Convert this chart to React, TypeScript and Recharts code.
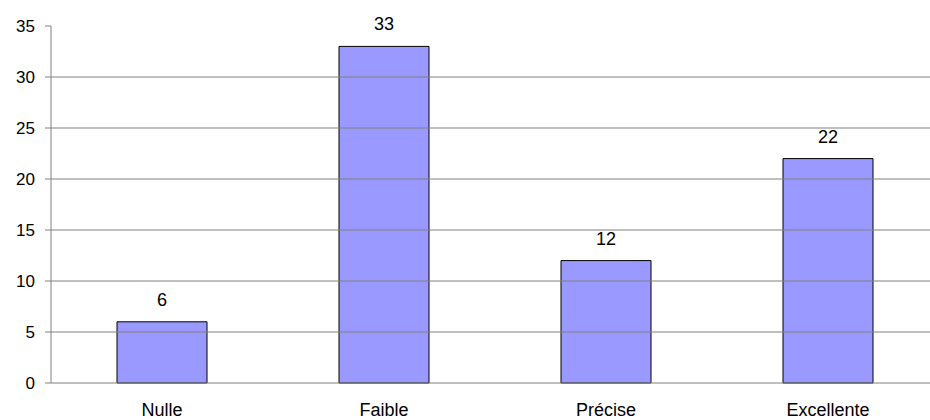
import React from "react";
import {
  BarChart,
  Bar,
  XAxis,
  YAxis,
  ReferenceLine,
  LabelList,
} from "recharts";

const categories = ["Nulle", "Faible", "Précise", "Excellente"];
const values = [6, 33, 12, 22];
const yTicks = [0, 5, 10, 15, 20, 25, 30, 35];
const gridValues = [5, 10, 15, 20, 25, 30];
const categoryEdges = [0, 1, 2, 3, 4];

const data = categories.map((name, i) => ({ name, value: values[i] }));

const FONT = "'Liberation Sans', Arial, sans-serif";
const AXIS_GRAY = "#808080";

export default function App() {
  return (
    <div
      style={{
        position: "fixed",
        top: 0,
        left: 0,
        width: 930,
        height: 420,
        overflow: "hidden",
        background: "#fff",
        fontFamily: FONT,
      }}
    >
      <BarChart
        width={939}
        height={420}
        data={data}
        margin={{ top: 26, right: 0, bottom: 7, left: 0 }}
        style={{ overflow: "visible" }}
      >
        {/* ticks between categories */}
        <XAxis
          xAxisId="edges"
          type="number"
          domain={[0, 4]}
          ticks={categoryEdges}
          tick={false}
          tickSize={6}
          height={0}
          axisLine={false}
          tickLine={{ stroke: AXIS_GRAY }}
        />
        <XAxis
          xAxisId="cat"
          dataKey="name"
          height={30}
          tickLine={false}
          tickSize={6}
          tickMargin={14}
          axisLine={{ stroke: AXIS_GRAY }}
          tick={{ fill: "#000", fontSize: 18, fontFamily: FONT }}
          interval={0}
        />
        <YAxis
          width={51}
          domain={[0, 35]}
          ticks={yTicks}
          interval={0}
          tickSize={6}
          tickMargin={10}
          axisLine={{ stroke: AXIS_GRAY }}
          tickLine={{ stroke: AXIS_GRAY }}
          tick={{ fill: "#000", fontSize: 17, fontFamily: FONT }}
        />
        {gridValues.map((v) => (
          <ReferenceLine
            key={v}
            xAxisId="cat"
            y={v}
            stroke={AXIS_GRAY}
            strokeWidth={1}
          />
        ))}
        <Bar
          xAxisId="cat"
          dataKey="value"
          fill="#9999FF"
          stroke="#000"
          strokeWidth={1}
          barSize={90}
          isAnimationActive={false}
        >
          <LabelList
            dataKey="value"
            position="top"
            offset={16}
            fill="#000"
            fontSize={18}
            fontFamily={FONT}
          />
        </Bar>
      </BarChart>
    </div>
  );
}
